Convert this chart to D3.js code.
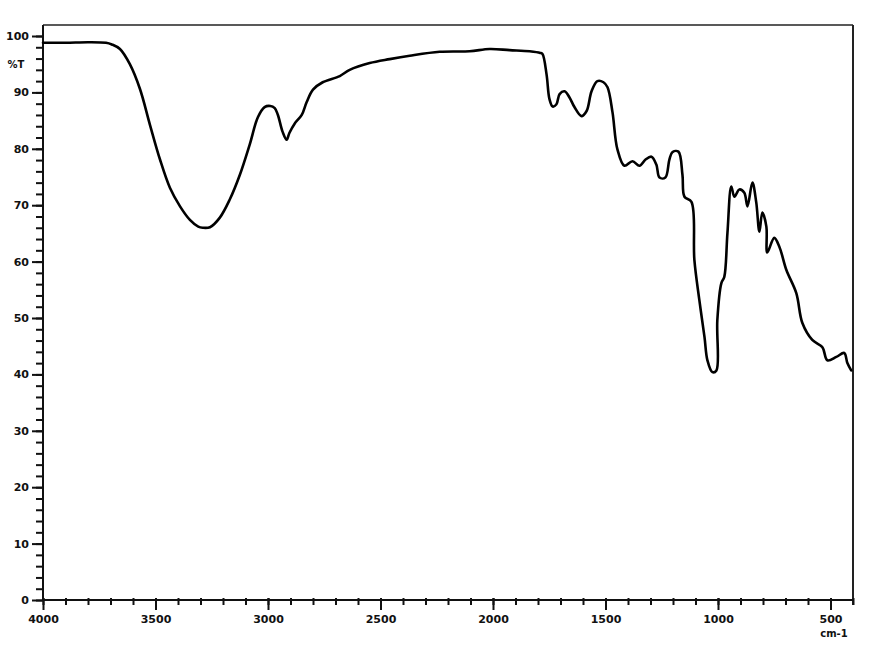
<!DOCTYPE html>
<html>
<head>
<meta charset="utf-8">
<script src="https://cdn.jsdelivr.net/npm/d3@7"></script>
<style>
html,body{margin:0;padding:0;background:#fff;}
svg{display:block;}
text{font-family:"DejaVu Sans",Verdana,sans-serif;font-weight:bold;fill:#111;}
</style>
</head>
<body>
<svg id="chart" width="882" height="651"></svg>
<script>
// Wavenumber (cm-1) and %Transmittance
const wavenumber = [4000,3900,3800,3720,3694,3658,3614,3569,3525,3480,3436,3391,3347,3310,3290,3258,3214,3170,3125,3081,3045,3015,2990,2970,2956,2935,2917,2905,2881,2850,2828,2800,2757,2681,2637,2548,2459,2370,2237,2104,2015,1926,1837,1790,1780,1762,1749,1735,1718,1704,1682,1660,1638,1607,1584,1562,1536,1509,1491,1469,1447,1416,1380,1349,1322,1296,1274,1260,1234,1216,1203,1176,1158,1149,1118,1105,1083,1060,1047,1025,1007,1003,985,972,958,941,927,905,883,869,847,830,816,803,785,781,750,727,696,652,625,581,536,514,474,439,425,408];
const transmittance = [98.8,98.8,98.9,98.8,98.5,97.7,95.0,90.6,84.3,78.1,73.1,69.8,67.4,66.2,66.0,66.1,67.8,71.0,75.4,80.8,85.6,87.4,87.6,87.2,86.0,83.0,81.6,82.8,84.5,86.0,88.3,90.5,91.8,92.9,94.0,95.2,95.9,96.5,97.2,97.3,97.7,97.5,97.3,97.0,96.8,93.2,88.8,87.5,87.9,89.7,90.2,89.1,87.4,85.8,86.7,90.2,92.0,91.8,90.9,86.5,79.9,77.0,77.8,77.0,78.1,78.6,77.2,74.9,74.9,78.1,79.4,79.5,75.4,71.5,70.6,60.3,53.2,46.6,42.5,40.4,40.7,49.6,56.2,57.3,65.1,73.3,71.5,72.8,72.2,69.8,74.0,70.5,65.3,68.7,66.2,61.6,64.2,62.6,58.5,54.4,49.1,46.1,44.8,42.5,43.1,43.8,42.0,40.7];
const xMajorTicks = [4000,3500,3000,2500,2000,1500,1000,500];
const xMinorTicks = d3.range(4000, 399, -100);
const yMajorTicks = [0,10,20,30,40,50,60,70,80,90,100];
const yMinorTicks = d3.range(0, 101, 2);
const yTitle = "%T";
const xTitle = "cm-1";

(function () {
const svg = d3.select("#chart");
const mLeft = 43, mRight = 853, mTop = 25, mBottom = 600;
const x = d3.scaleLinear().domain([4000, 400]).range([mLeft, mRight]);
const y = d3.scaleLinear().domain([0, 100]).range([mBottom, 36]);

const g = svg.append("g");

// frame: top and right borders
g.append("line").attr("x1", mLeft).attr("x2", mRight).attr("y1", mTop).attr("y2", mTop)
  .attr("stroke", "#222").attr("stroke-width", 1.6);
g.append("line").attr("x1", mRight).attr("x2", mRight).attr("y1", mTop).attr("y2", mBottom + 5)
  .attr("stroke", "#222").attr("stroke-width", 2);

// Y axis
const yMinorAxis = d3.axisLeft(y).tickValues(yMinorTicks).tickSize(7).tickFormat("");
const yMinG = g.append("g").attr("transform", `translate(${mLeft},0)`).call(yMinorAxis);
const yMajorAxis = d3.axisLeft(y).tickValues(yMajorTicks).tickSize(11).tickPadding(3).tickFormat(d3.format("d"));
const yMajG = g.append("g").attr("transform", `translate(${mLeft},0)`).call(yMajorAxis);
[yMinG, yMajG].forEach(a => {
  a.select(".domain").attr("stroke", "#111").attr("stroke-width", 2).attr("d", `M0,${mTop}V${mBottom}`);
  a.selectAll(".tick line").attr("stroke", "#111").attr("stroke-width", 2);
});
yMajG.selectAll(".tick text").attr("font-size", 11).attr("font-family", "DejaVu Sans").attr("font-weight", "bold").attr("fill", "#111");

// X axis
const xMinorAxis = d3.axisBottom(x).tickValues(xMinorTicks).tickSize(5).tickFormat("");
const xMinG = g.append("g").attr("transform", `translate(0,${mBottom})`).call(xMinorAxis);
const xMajorAxis = d3.axisBottom(x).tickValues(xMajorTicks).tickSize(10).tickPadding(5).tickFormat(d3.format("d"));
const xMajG = g.append("g").attr("transform", `translate(0,${mBottom})`).call(xMajorAxis);
[xMinG, xMajG].forEach(a => {
  a.select(".domain").attr("stroke", "#111").attr("stroke-width", 2).attr("d", `M${mLeft},0H${mRight}`);
  a.selectAll(".tick line").attr("stroke", "#111").attr("stroke-width", 2).attr("y1", -2);
});
xMajG.selectAll(".tick text").attr("font-size", 11).attr("font-family", "DejaVu Sans").attr("font-weight", "bold").attr("fill", "#111");

// axis titles
g.append("text").attr("x", 16).attr("y", 68).attr("text-anchor", "middle")
  .attr("font-size", 10).text(yTitle);
g.append("text").attr("x", 834).attr("y", 637).attr("text-anchor", "middle")
  .attr("font-size", 10).text(xTitle);

// spectrum
const data = wavenumber.map((w, i) => ({w, t: transmittance[i]}));
const line = d3.line().x(d => x(d.w)).y(d => y(d.t)).curve(d3.curveCatmullRom.alpha(0.5));
g.append("path").datum(data).attr("d", line)
  .attr("fill", "none").attr("stroke", "#000").attr("stroke-width", 2.6)
  .attr("stroke-linejoin", "round").attr("stroke-linecap", "round");
})();
</script>
</body>
</html>
